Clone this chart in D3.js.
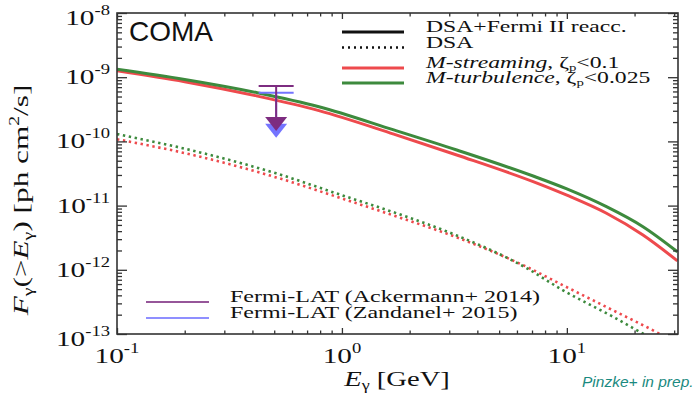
<!DOCTYPE html>
<html>
<head>
<meta charset="utf-8">
<script src="https://cdn.jsdelivr.net/npm/d3@7"></script>
<style>
  body { margin: 0; background: #fff; }
  text { font-family: "Liberation Serif", "DejaVu Serif", serif; fill: #111; }
</style>
</head>
<body>
<svg id="chart" width="696" height="395"></svg>
<script>
// values (E in GeV, integral flux in ph cm^-2 s^-1)
const energyReacc = [0.1, 0.2, 0.42, 0.79, 1.7, 3.24, 7.08, 10, 15, 21.8, 31];
const fluxStreamingReacc = [1.26e-9, 8.51e-10, 5.09e-10, 3.02e-10, 1.30e-10, 6.14e-11, 2.36e-11, 1.45e-11, 7.59e-12, 3.48e-12, 1.38e-12];
const fluxTurbulenceReacc = [1.33e-9, 9.23e-10, 5.74e-10, 3.47e-10, 1.51e-10, 7.35e-11, 2.89e-11, 1.82e-11, 9.62e-12, 4.69e-12, 1.91e-12];

const energyDSA = [0.1, 0.227, 0.51, 1, 1.75, 3.16, 6.6, 9.57, 15.8, 25, 28.2];
const fluxStreamingDSA = [1.08e-10, 5.93e-11, 2.75e-11, 1.29e-11, 6.76e-12, 3.31e-12, 1.12e-12, 5.79e-13, 2.40e-13, 1.07e-13, 8.5e-14];
const fluxTurbulenceDSA = [1.30e-10, 6.92e-11, 3.18e-11, 1.45e-11, 7.59e-12, 3.55e-12, 1.07e-12, 4.84e-13, 1.91e-13, 7.9e-14, 6.5e-14];

// Fermi-LAT upper limits
const limitNames = ["Fermi-LAT (Ackermann+ 2014)", "Fermi-LAT (Zandanel+ 2015)"];
const limitEnergy = [0.51, 0.51];
const limitFlux = [7.3e-10, 5.7e-10];

const xDecades = [0.1, 1, 10];
const yDecades = [1e-13, 1e-12, 1e-11, 1e-10, 1e-9, 1e-8];

const red = "#ee4a4d", green = "#3d8a3d";
const limitColors = ["#7d2c80", "#7474ff"];

const svg = d3.select("#chart");
const plot = { left: 117, right: 678, top: 13, bottom: 334 };

const x = d3.scaleLog().domain([0.1, 31.2]).range([plot.left, plot.right]);
const y = d3.scaleLog().domain([1e-13, 1e-8]).range([plot.bottom, plot.top]);

svg.append("clipPath").attr("id", "plotclip")
    .append("rect").attr("x", plot.left).attr("y", plot.top)
    .attr("width", plot.right - plot.left).attr("height", plot.bottom - plot.top);

// curves
const line = d3.line().x(d => x(d[0])).y(d => y(d[1])).curve(d3.curveMonotoneX);
const series = [
    { e: energyDSA, f: fluxStreamingDSA, color: red, dotted: true },
    { e: energyDSA, f: fluxTurbulenceDSA, color: green, dotted: true },
    { e: energyReacc, f: fluxStreamingReacc, color: red, dotted: false },
    { e: energyReacc, f: fluxTurbulenceReacc, color: green, dotted: false }
];
svg.append("g").attr("clip-path", "url(#plotclip)")
    .selectAll("path").data(series).join("path")
    .attr("d", s => line(s.e.map((e, i) => [e, s.f[i]])))
    .attr("fill", "none")
    .attr("stroke", s => s.color)
    .attr("stroke-width", s => s.dotted ? 2.6 : 3)
    .attr("stroke-dasharray", s => s.dotted ? "2.4,3.6" : null);

// upper limits (blue first, purple on top)
[1, 0].forEach(i => {
    const cx = x(limitEnergy[i]), cy = y(limitFlux[i]);
    const g = svg.append("g").attr("stroke", limitColors[i]).attr("fill", limitColors[i]);
    g.append("line").attr("x1", cx - 17.5).attr("x2", cx + 17.5)
        .attr("y1", cy).attr("y2", cy).attr("stroke-width", 2);
    g.append("line").attr("x1", cx).attr("x2", cx)
        .attr("y1", cy).attr("y2", cy + 32).attr("stroke-width", 2);
    g.append("path").attr("stroke", "none")
        .attr("d", `M${cx - 11},${cy + 31}L${cx + 11},${cy + 31}L${cx},${cy + 45}Z`);
});

// frame and ticks (all four sides, pointing inward)
const isDecade = (t, ds) => ds.some(d => Math.abs(t / d - 1) < 1e-6);
const minorX = x.ticks().filter(t => !isDecade(t, xDecades));
const minorY = y.ticks().filter(t => !isDecade(t, yDecades));

function ticks(axis, pos, values, size) {
    const g = svg.append("g").attr("transform", pos)
        .call(axis.tickValues(values).tickSize(-size).tickSizeOuter(0).tickFormat(""));
    g.select(".domain").remove();
    g.selectAll("line").attr("stroke", "#333").attr("stroke-width", 1.3);
}
ticks(d3.axisBottom(x), `translate(0,${plot.bottom})`, xDecades, 6);
ticks(d3.axisBottom(x), `translate(0,${plot.bottom})`, minorX, 3.5);
ticks(d3.axisTop(x), `translate(0,${plot.top})`, xDecades, 6);
ticks(d3.axisTop(x), `translate(0,${plot.top})`, minorX, 3.5);
ticks(d3.axisLeft(y), `translate(${plot.left},0)`, yDecades, 10);
ticks(d3.axisLeft(y), `translate(${plot.left},0)`, minorY, 5);
ticks(d3.axisRight(y), `translate(${plot.right},0)`, yDecades, 10);
ticks(d3.axisRight(y), `translate(${plot.right},0)`, minorY, 5);

svg.append("rect").attr("x", plot.left).attr("y", plot.top)
    .attr("width", plot.right - plot.left).attr("height", plot.bottom - plot.top)
    .attr("fill", "none").attr("stroke", "#333").attr("stroke-width", 1.6);

// tick labels 10^n, stretched horizontally like the reference
function power(g, v) {
    const t = g.append("text").attr("font-size", 22);
    t.append("tspan").text("10");
    t.append("tspan").attr("font-size", 14).attr("dy", -10).text(Math.round(Math.log10(v)));
    return t;
}
xDecades.forEach(v => {
    const g = svg.append("g").attr("transform", `translate(${x(v)},363) scale(1.33,1)`);
    power(g, v).attr("text-anchor", "middle");
});
yDecades.forEach(v => {
    const dy = (v === 1e-8 || v === 1e-13) ? 12 : 7;
    const g = svg.append("g").attr("transform", `translate(110,${y(v) + dy}) scale(1.33,1)`);
    power(g, v).attr("text-anchor", "end");
});

// axis titles
const xt = svg.append("g").attr("transform", "translate(397,386) scale(1.3,1)")
    .append("text").attr("font-size", 22).attr("text-anchor", "middle");
xt.append("tspan").attr("font-style", "italic").text("E");
xt.append("tspan").attr("font-size", 14).attr("dy", 4).text("γ");
xt.append("tspan").attr("dy", -4).text(" [GeV]");

const yt = svg.append("g").attr("transform", "translate(28,200) rotate(-90) scale(1.42,1)")
    .append("text").attr("font-size", 22).attr("text-anchor", "middle");
yt.append("tspan").attr("font-style", "italic").text("F");
yt.append("tspan").attr("font-size", 14).attr("dy", 5).text("γ");
yt.append("tspan").attr("dy", -5).text("(>");
yt.append("tspan").attr("font-style", "italic").text("E");
yt.append("tspan").attr("font-size", 14).attr("dy", 5).text("γ");
yt.append("tspan").attr("dy", -5).text(") [ph cm");
yt.append("tspan").attr("font-size", 14).attr("dy", -9).text("2");
yt.append("tspan").attr("dy", 9).text("/s]");

// COMA label
svg.append("text").attr("x", 129).attr("y", 41)
    .style("font-family", "Liberation Sans, Arial, sans-serif").attr("font-size", 28)
    .text("COMA");

// model legend
const legendRows = [
    { y: 32, color: "#111", dash: null, parts: [["DSA+Fermi II reacc.", "normal"]] },
    { y: 47.5, color: "#111", dash: "2,4", parts: [["DSA", "normal"]] },
    { y: 68, color: red, dash: null, parts: [["M-streaming", "italic"], [", ζ", "normal"], ["p", "sub"], ["<0.1", "normal"]] },
    { y: 83, color: green, dash: null, parts: [["M-turbulence", "italic"], [", ζ", "normal"], ["p", "sub"], ["<0.025", "normal"]] }
];
legendRows.forEach(r => {
    svg.append("line").attr("x1", 342).attr("x2", 404).attr("y1", r.y).attr("y2", r.y)
        .attr("stroke", r.color).attr("stroke-width", r.dash ? 2.5 : 3)
        .attr("stroke-dasharray", r.dash);
    const t = svg.append("g").attr("transform", `translate(426,${r.y}) scale(1.48,1)`)
        .append("text").attr("font-size", 16);
    let shifted = false;
    r.parts.forEach(([s, k]) => {
        const sp = t.append("tspan").text(s);
        if (k === "italic") sp.attr("font-style", "italic");
        if (k === "sub") { sp.attr("font-size", 10).attr("dy", 3); shifted = true; }
        else if (shifted) { sp.attr("dy", -3); shifted = false; }
    });
});

// upper-limit legend
limitNames.forEach((name, i) => {
    const ly = 302 + i * 16;
    svg.append("line").attr("x1", 146).attr("x2", 209).attr("y1", ly).attr("y2", ly)
        .attr("stroke", limitColors[i]).attr("stroke-width", 2.2).attr("opacity", 0.8);
    svg.append("g").attr("transform", `translate(230,${ly}) scale(1.5,1)`)
        .append("text").attr("font-size", 16).text(name);
});

// credit
svg.append("text").attr("x", 582).attr("y", 387)
    .style("font-family", "Liberation Sans, Arial, sans-serif").style("fill", "#1a8a80")
    .attr("font-size", 15.5).attr("font-style", "italic").text("Pinzke+ in prep.");
</script>
</body>
</html>
